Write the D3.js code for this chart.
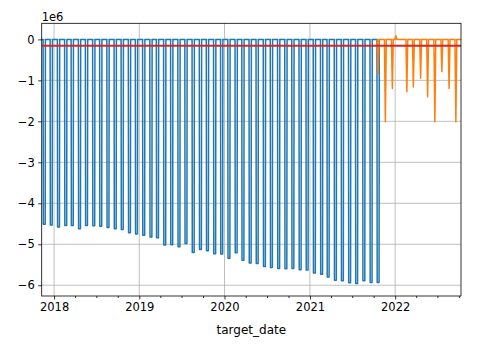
<!DOCTYPE html>
<html>
<head>
<meta charset="utf-8">
<script src="https://cdn.jsdelivr.net/npm/d3@7"></script>
<style>
  body { margin: 0; background: #fff; }
  svg { display: block; }
  text { font-family: "DejaVu Sans", sans-serif; fill: #000; }
</style>
</head>
<body>
<svg id="chart" width="484" height="348"></svg>
<script>
// Series range (daily index)
const seriesStart = "2017-11-09";
const seriesEnd = "2022-10-10";

// Historical series: one large monthly drawdown, flat at zero in between
const blueMonths = [
  "2017-11", "2017-12",
  "2018-01", "2018-02", "2018-03", "2018-04", "2018-05", "2018-06",
  "2018-07", "2018-08", "2018-09", "2018-10", "2018-11", "2018-12",
  "2019-01", "2019-02", "2019-03", "2019-04", "2019-05", "2019-06",
  "2019-07", "2019-08", "2019-09", "2019-10", "2019-11", "2019-12",
  "2020-01", "2020-02", "2020-03", "2020-04", "2020-05", "2020-06",
  "2020-07", "2020-08", "2020-09", "2020-10", "2020-11", "2020-12",
  "2021-01", "2021-02", "2021-03", "2021-04", "2021-05", "2021-06",
  "2021-07", "2021-08", "2021-09", "2021-10"
];
const blueValues = [
  -4.51e6, -4.53e6,
  -4.58e6, -4.54e6, -4.54e6, -4.62e6, -4.54e6, -4.55e6,
  -4.56e6, -4.59e6, -4.62e6, -4.64e6, -4.72e6, -4.75e6,
  -4.78e6, -4.82e6, -4.84e6, -5.02e6, -5.01e6, -5.06e6,
  -4.98e6, -5.20e6, -5.13e6, -5.16e6, -5.23e6, -5.24e6,
  -5.34e6, -5.21e6, -5.39e6, -5.46e6, -5.47e6, -5.54e6,
  -5.57e6, -5.59e6, -5.60e6, -5.59e6, -5.62e6, -5.63e6,
  -5.70e6, -5.73e6, -5.80e6, -5.88e6, -5.89e6, -5.94e6,
  -5.96e6, -5.89e6, -5.93e6, -5.93e6
];

// Recent series: spikes on the listed dates, zero otherwise
const orangeDates = [
  "2021-10-20", "2021-11-20", "2021-12-20", "2022-01-04", "2022-02-20",
  "2022-03-20", "2022-04-20", "2022-05-20", "2022-06-20", "2022-07-20",
  "2022-08-20", "2022-09-18"
];
const orangeValues = [
  -0.85e6, -2.01e6, -1.20e6, 0.09e6, -1.28e6,
  -1.16e6, -0.95e6, -1.40e6, -2.01e6, -0.79e6,
  -1.20e6, -2.01e6
];

// Horizontal reference level
const meanLevel = -0.155e6;

// Tick labels
const yTickValues = [-6, -5, -4, -3, -2, -1, 0];
const yOffsetLabel = "1e6";
const xTickYears = [2018, 2019, 2020, 2021, 2022];
const xLabel = "target_date";

// ---------------------------------------------------------------
const parse = d3.timeParse("%Y-%m-%d");
const day = (d, n) => d3.timeDay.offset(d, n);

const t0 = parse(seriesStart), t1 = parse(seriesEnd);

// blue: drop on the 16th, hold until the 24th, back to zero on the 25th
const blue = [{ t: t0, v: 0 }];
blueMonths.forEach((m, i) => {
  const d = parse(m + "-15");
  blue.push({ t: d, v: 0 }, { t: day(d, 1), v: blueValues[i] },
            { t: day(d, 9), v: blueValues[i] }, { t: day(d, 10), v: 0 });
});

// orange: single-day spikes joined to zero four days either side
const orange = [];
orangeDates.forEach((s, i) => {
  const d = parse(s);
  orange.push({ t: day(d, -4), v: 0 }, { t: d, v: orangeValues[i] }, { t: day(d, 4), v: 0 });
});
orange.push({ t: t1, v: 0 });

const plot = { left: 41.7, right: 461, top: 23.3, bottom: 296 };

const x = d3.scaleTime().domain([t0, t1]).range([plot.left, plot.right]);

const all = blue.concat(orange).map(p => p.v);
const lo = d3.min(all), hi = d3.max(all), pad = (hi - lo) * 0.05;
const y = d3.scaleLinear().domain([lo - pad, hi + pad]).range([plot.bottom, plot.top]);

const svg = d3.select("#chart");

svg.append("defs").append("clipPath").attr("id", "clip")
  .append("rect")
  .attr("x", plot.left).attr("y", plot.top)
  .attr("width", plot.right - plot.left).attr("height", plot.bottom - plot.top);

// grid
const yearDates = xTickYears.map(yr => new Date(yr, 0, 1));
const grid = svg.append("g").attr("stroke", "#b0b0b0").attr("stroke-width", 0.8);
grid.selectAll("line.gx").data(yearDates).join("line")
  .attr("x1", d => x(d)).attr("x2", d => x(d))
  .attr("y1", plot.top).attr("y2", plot.bottom);
grid.selectAll("line.gy").data(yTickValues).join("line")
  .attr("x1", plot.left).attr("x2", plot.right)
  .attr("y1", d => y(d * 1e6)).attr("y2", d => y(d * 1e6));

// lines
const line = d3.line().x(p => x(p.t)).y(p => y(p.v));
const lines = svg.append("g").attr("clip-path", "url(#clip)")
  .attr("fill", "none").attr("stroke-width", 1.5).attr("stroke-linejoin", "round");
lines.append("path").datum(blue).attr("stroke", "#1f77b4").attr("d", line);
lines.append("path").datum(orange).attr("stroke", "#ff7f0e").attr("d", line);
lines.append("line")
  .attr("x1", plot.left).attr("x2", plot.right)
  .attr("y1", y(meanLevel)).attr("y2", y(meanLevel))
  .attr("stroke", "#d62728").attr("stroke-width", 2);

// axes
const fontSize = "11.5px";
const xAxis = svg.append("g").attr("transform", `translate(0,${plot.bottom})`)
  .call(d3.axisBottom(x).tickValues(yearDates).tickFormat(d3.timeFormat("%Y"))
    .tickSize(3.5).tickPadding(3.5));
const quarterTicks = d3.timeMonth.range(t0, t1).filter(d => d.getMonth() % 3 === 0 && d.getMonth() !== 0);
svg.append("g").attr("transform", `translate(0,${plot.bottom})`)
  .call(d3.axisBottom(x).tickValues(quarterTicks).tickFormat("").tickSize(2))
  .call(g => g.select(".domain").remove())
  .selectAll("line").attr("stroke", "#000").attr("stroke-width", 0.8);

const yAxis = svg.append("g").attr("transform", `translate(${plot.left},0)`)
  .call(d3.axisLeft(y).tickValues(yTickValues.map(v => v * 1e6))
    .tickFormat(d => d3.format("d")(Math.round(d / 1e6)))
    .tickSize(3.5).tickPadding(3.5));

[xAxis, yAxis].forEach(g => {
  g.select(".domain").remove();
  g.selectAll("line").attr("stroke", "#000").attr("stroke-width", 0.8);
  g.selectAll("text").style("font-size", fontSize).style("font-family", "DejaVu Sans");
});

// frame
svg.append("rect")
  .attr("x", plot.left).attr("y", plot.top)
  .attr("width", plot.right - plot.left).attr("height", plot.bottom - plot.top)
  .attr("fill", "none").attr("stroke", "#000").attr("stroke-width", 0.8);

// offset text and axis label
svg.append("text").attr("x", plot.left).attr("y", 20.5)
  .style("font-size", fontSize).text(yOffsetLabel);
svg.append("text").attr("x", (plot.left + plot.right) / 2).attr("y", 334)
  .attr("text-anchor", "middle").style("font-size", "12px").text(xLabel);
</script>
</body>
</html>
